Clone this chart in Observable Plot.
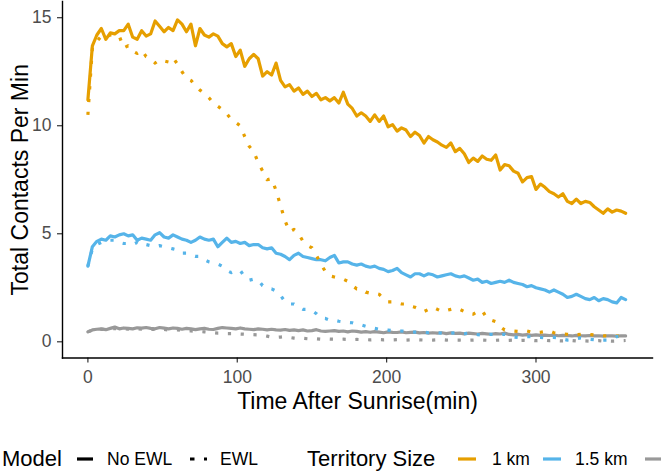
<!DOCTYPE html>
<html>
<head>
<meta charset="utf-8">
<script src="https://cdn.jsdelivr.net/npm/d3@7"></script>
<script src="https://cdn.jsdelivr.net/npm/@observablehq/plot@0.6"></script>
<style>
html, body { margin: 0; padding: 0; background: #fff; overflow: hidden; }
#wrap { position: relative; width: 661px; height: 474px; overflow: hidden;
  font-family: "Liberation Sans", Arial, sans-serif; }
#legend .t { position: absolute; white-space: nowrap; color: #000; line-height: 1; }
#legend svg { position: absolute; overflow: visible; }
</style>
</head>
<body>
<div id="wrap">
  <div id="chart"></div>
  <div id="legend"></div>
</div>
<script>
(() => {
// minutes after sunrise, one value every STEP minutes starting at 0
const STEP = 3;

const sizes = ["1 km", "1.5 km", "2 km"];
const sizeColors = ["#E69F00", "#56B4E9", "#999999"];
const models = ["No EWL", "EWL"];

// No EWL (solid)
const noEwl1km = [
  11.2, 13.7, 14.2, 14.5, 14.0, 14.3, 14.25, 14.4, 14.4, 14.7,
  14.1, 14.0, 14.4, 14.15, 14.25, 14.85, 14.6, 14.35, 14.55, 14.4,
  14.9, 14.7, 14.35, 14.7, 13.7, 14.5, 14.2, 14.1, 14.25, 14.15,
  13.8, 13.65, 13.8, 13.2, 13.5, 12.75, 13.1, 13.3, 13.1, 12.3,
  12.5, 12.35, 12.9, 12.1, 11.8, 11.9, 11.6, 11.75, 11.45, 11.6,
  11.35, 11.5, 11.2, 11.3, 11.15, 11.3, 11.05, 11.55, 11.0, 10.8,
  10.45, 10.6, 10.45, 10.2, 10.5, 10.2, 10.45, 9.95, 10.05, 9.75,
  9.9, 9.8, 9.5, 9.7, 9.55, 9.2, 9.5, 9.35, 9.25, 9.1,
  9.0, 9.2, 8.8, 8.95, 8.7, 8.3, 8.5, 8.35, 8.6, 8.45,
  8.4, 8.65, 7.95, 8.2, 8.15, 7.9, 7.8, 7.4, 7.6, 7.65,
  7.05, 7.3, 7.15, 6.95, 6.85, 6.7, 6.85, 6.5, 6.4, 6.6,
  6.4, 6.5, 6.45, 6.25, 6.1, 5.95, 6.15, 6.0, 6.1, 6.05,
  5.95
];
const noEwl15km = [
  3.5, 4.4, 4.65, 4.75, 4.7, 4.9, 4.85, 4.95, 5.0, 4.9,
  4.95, 4.7, 4.8, 4.75, 4.7, 4.95, 5.05, 4.85, 4.8, 4.95,
  4.85, 4.75, 4.7, 4.6, 4.7, 4.85, 4.75, 4.7, 4.75, 4.4,
  4.6, 4.8, 4.6, 4.65, 4.55, 4.6, 4.45, 4.5, 4.5, 4.35,
  4.3, 4.35, 4.1, 4.05, 3.95, 3.8, 4.0, 4.1, 3.95, 3.9,
  3.85, 3.8, 3.8, 3.75, 3.9, 4.0, 3.65, 3.7, 3.7, 3.6,
  3.55, 3.6, 3.5, 3.45, 3.5, 3.4, 3.35, 3.25, 3.3, 3.4,
  3.2, 3.1, 3.0, 3.15, 3.15, 3.05, 3.15, 3.1, 3.0, 3.05,
  3.1, 3.15, 3.05, 3.0, 3.05, 2.95, 2.85, 2.9, 2.75, 2.8,
  2.7, 2.75, 2.8, 2.75, 2.85, 2.75, 2.7, 2.65, 2.55, 2.6,
  2.5, 2.45, 2.4, 2.3, 2.4, 2.3, 2.2, 2.05, 2.1, 2.2,
  2.1, 2.0, 1.95, 2.05, 1.9, 2.0, 1.95, 1.85, 1.8, 2.05,
  1.95
];
const noEwl2km = [
  0.46, 0.55, 0.58, 0.6, 0.56, 0.62, 0.68, 0.6, 0.64, 0.62,
  0.6, 0.65, 0.63, 0.66, 0.62, 0.6, 0.66, 0.63, 0.6, 0.64,
  0.62, 0.58, 0.62, 0.6, 0.56, 0.6, 0.62, 0.58, 0.57, 0.62,
  0.66, 0.64, 0.62, 0.6, 0.64, 0.6, 0.58, 0.56, 0.6, 0.58,
  0.55, 0.58, 0.55, 0.54, 0.57, 0.53, 0.55, 0.52, 0.55, 0.5,
  0.52, 0.56, 0.5, 0.48, 0.5, 0.52, 0.48, 0.5, 0.46, 0.5,
  0.48, 0.45, 0.47, 0.44, 0.47, 0.45, 0.42, 0.46, 0.44, 0.43,
  0.46, 0.42, 0.44, 0.45, 0.41, 0.43, 0.4, 0.42, 0.4, 0.42,
  0.38, 0.41, 0.39, 0.4, 0.37, 0.4, 0.38, 0.36, 0.39, 0.37,
  0.35, 0.38, 0.36, 0.4, 0.34, 0.32, 0.34, 0.31, 0.33, 0.3,
  0.32, 0.3, 0.31, 0.29, 0.31, 0.28, 0.3, 0.29, 0.27, 0.3,
  0.28, 0.27, 0.29, 0.27, 0.28, 0.26, 0.28, 0.27, 0.26, 0.28,
  0.27
];

// EWL (dotted)
const ewl1km = [
  10.5, 13.6, 13.9, 14.15, 14.1, 14.2, 14.2, 14.15, 13.6, 13.7,
  13.45, 13.35, 13.5, 13.2, 13.1, 12.9, 13.05, 13.0, 12.95, 13.15,
  12.85, 12.5, 12.2, 12.1, 11.85, 11.65, 11.5, 11.3, 11.05, 10.9,
  10.75, 10.55, 10.3, 10.15, 10.0, 9.5, 9.05, 8.8, 8.3, 7.9,
  7.5, 7.55, 7.0, 6.3, 5.6, 5.1, 5.2, 5.0, 4.65, 4.45,
  4.35, 4.0, 3.6, 3.25, 3.05, 3.0, 2.95, 2.9, 2.8, 2.6,
  2.45, 2.45, 2.3, 2.25, 2.25, 2.2, 2.0, 1.85, 1.85, 1.8,
  1.75, 1.75, 1.65, 1.6, 1.5, 1.4, 1.5, 1.6, 1.5, 1.4,
  1.45, 1.5, 1.55, 1.5, 1.4, 1.3, 1.28, 1.4, 1.45, 1.1,
  1.0, 0.93, 0.7, 0.55, 0.52, 0.5, 0.48, 0.5, 0.5, 0.45,
  0.42, 0.44, 0.48, 0.5, 0.42, 0.38, 0.36, 0.35, 0.32, 0.33,
  0.35, 0.36, 0.34, 0.32, 0.3, 0.28, 0.27, 0.26, 0.26, 0.26,
  0.25
];
const ewl15km = [
  3.5, 4.3, 4.5, 4.6, 4.65, 4.7, 4.7, 4.6, 4.55, 4.55,
  4.5, 4.6, 4.45, 4.5, 4.45, 4.4, 4.45, 4.4, 4.35, 4.3,
  4.25, 4.1, 4.1, 4.0, 3.95, 3.95, 3.8, 3.7, 3.65, 3.6,
  3.5, 3.3, 3.2, 3.3, 3.3, 3.0, 2.85, 2.9, 2.85, 2.6,
  2.47, 2.45, 2.35, 2.15, 1.85, 1.75, 1.75, 1.6, 1.5, 1.5,
  1.45, 1.3, 1.1, 1.08, 1.0, 1.0, 0.95, 0.92, 0.9, 0.88,
  0.82, 0.78, 0.72, 0.65, 0.62, 0.58, 0.55, 0.54, 0.52, 0.52,
  0.5, 0.48, 0.46, 0.45, 0.45, 0.44, 0.42, 0.44, 0.42, 0.4,
  0.38, 0.4, 0.42, 0.4, 0.38, 0.4, 0.36, 0.33, 0.31, 0.33,
  0.35, 0.34, 0.33, 0.35, 0.3, 0.22, 0.2, 0.22, 0.24, 0.23,
  0.2, 0.2, 0.18, 0.2, 0.2, 0.18, 0.12, 0.08, 0.1, 0.14,
  0.18, 0.16, 0.12, 0.1, 0.12, 0.08, 0.08, 0.15, 0.24, 0.26,
  0.24
];
const ewl2km = [
  0.46, 0.54, 0.56, 0.58, 0.57, 0.6, 0.62, 0.6, 0.61, 0.59,
  0.6, 0.6, 0.58, 0.6, 0.57, 0.58, 0.56, 0.57, 0.55, 0.54,
  0.55, 0.52, 0.5, 0.5, 0.48, 0.47, 0.46, 0.44, 0.42, 0.4,
  0.4, 0.38, 0.38, 0.36, 0.36, 0.35, 0.34, 0.33, 0.32, 0.3,
  0.26, 0.22, 0.2, 0.22, 0.24, 0.2, 0.17, 0.15, 0.16, 0.14,
  0.13, 0.14, 0.12, 0.13, 0.12, 0.12, 0.11, 0.12, 0.11, 0.1,
  0.11, 0.1, 0.1, 0.09, 0.1, 0.1, 0.09, 0.1, 0.09, 0.1,
  0.09, 0.08, 0.09, 0.1, 0.09, 0.08, 0.09, 0.08, 0.09, 0.1,
  0.08, 0.09, 0.08, 0.08, 0.09, 0.07, 0.08, 0.09, 0.08, 0.07,
  0.08, 0.07, 0.08, 0.06, 0.07, 0.08, 0.06, 0.07, 0.06, 0.07,
  0.05, 0.06, 0.07, 0.05, 0.06, 0.05, 0.04, 0.05, 0.06, 0.04,
  0.05, 0.04, 0.03, 0.04, 0.05, 0.03, 0.04, 0.03, 0.04, 0.05,
  0.06
];

const xTicks = [0, 100, 200, 300];
const yTicks = [0, 5, 10, 15];

const series = [
  { model: "No EWL", size: "1 km", values: noEwl1km },
  { model: "No EWL", size: "1.5 km", values: noEwl15km },
  { model: "No EWL", size: "2 km", values: noEwl2km },
  { model: "EWL", size: "1 km", values: ewl1km },
  { model: "EWL", size: "1.5 km", values: ewl15km },
  { model: "EWL", size: "2 km", values: ewl2km },
];
const rows = series.flatMap(s =>
  s.values.map((v, i) => ({ t: i * STEP, v, model: s.model, size: s.size, key: s.model + s.size }))
);
const solid = rows.filter(d => d.model === "No EWL");
const dotted = rows.filter(d => d.model === "EWL");

const LW = 3.2;
const chart = Plot.plot({
  width: 661,
  height: 430,
  marginLeft: 62,
  marginRight: 9,
  marginTop: 1,
  marginBottom: 72.5,
  style: { background: "#fff", fontFamily: "'Liberation Sans', Arial, sans-serif", overflow: "visible" },
  x: { domain: [-17, 378] },
  y: { domain: [-0.75, 15.75] },
  color: { domain: sizes, range: sizeColors },
  marks: [
    Plot.line(solid, { x: "t", y: "v", z: "key", stroke: "size", strokeWidth: LW, strokeLinejoin: "round" }),
    Plot.line(dotted, { x: "t", y: "v", z: "key", stroke: "size", strokeWidth: LW, strokeDasharray: `${LW},${LW * 3}`, strokeLinecap: "butt" }),
    Plot.axisX({ ticks: xTicks, tickSize: 5, tickPadding: 8, fontSize: 17.5, fill: "#4D4D4D", stroke: "#333", strokeWidth: 1.2, label: null }),
    Plot.axisY({ ticks: yTicks, tickSize: 5, tickPadding: 6, fontSize: 17.5, fill: "#4D4D4D", stroke: "#333", strokeWidth: 1.2, label: null }),
    Plot.frame({ anchor: "bottom", stroke: "#000", strokeWidth: 1.4 }),
    Plot.frame({ anchor: "left", stroke: "#000", strokeWidth: 1.4 }),
    Plot.text(["Time After Sunrise(min)"], { frameAnchor: "bottom", textAnchor: "middle", lineAnchor: "middle", dy: 44, fontSize: 23, fill: "#000" }),
    Plot.text(["Total Contacts Per Min"], { frameAnchor: "left", textAnchor: "middle", lineAnchor: "middle", rotate: -90, dx: -42, fontSize: 23, fill: "#000" }),
  ],
});
document.getElementById("chart").appendChild(chart);

// legend below the plot, laid out like ggplot's bottom legend (runs off the right edge)
const legend = document.getElementById("legend");
const text = (s, left, top, size) => {
  const el = document.createElement("div");
  el.className = "t";
  el.textContent = s;
  el.style.left = left + "px";
  el.style.top = top + "px";
  el.style.fontSize = size + "px";
  legend.appendChild(el);
};
const key = (x1, x2, color, dash) => {
  const svg = d3.create("svg").attr("width", x2 - x1).attr("height", 6)
    .style("left", x1 + "px").style("top", "455.5px");
  svg.append("line").attr("x1", 0).attr("x2", x2 - x1).attr("y1", 3).attr("y2", 3)
    .attr("stroke", color).attr("stroke-width", 3.2).attr("stroke-dasharray", dash || null);
  legend.appendChild(svg.node());
};
text("Model", 2, 448, 22);
key(77, 93, "#000");
text(models[0], 107, 451.2, 17.5);
key(190, 207, "#000", "4.5,9.5");
text(models[1], 220, 451.2, 17.5);
text("Territory Size", 307, 448, 22);
const keyX = [458, 543, 645];
const labX = [492, 575, 679];
sizes.forEach((s, i) => {
  key(keyX[i], keyX[i] + 18, sizeColors[i]);
  text(s, labX[i], 451.2, 17.5);
});
})();
</script>
</body>
</html>
